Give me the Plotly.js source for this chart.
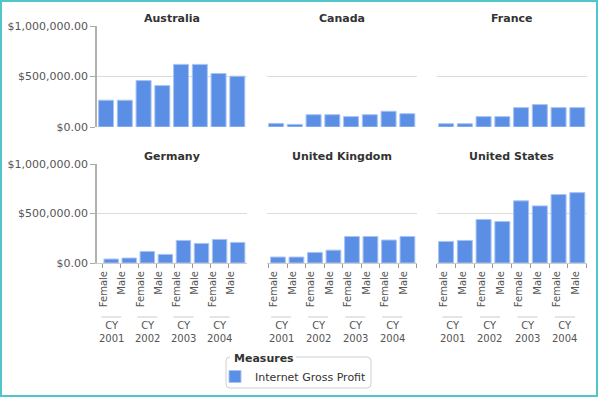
<!DOCTYPE html>
<html><head><meta charset="utf-8">
<script src="https://cdn.plot.ly/plotly-3.0.1.min.js"></script>
<style>
html,body{margin:0;padding:0;background:#fff}
#wrap{position:relative;width:598px;height:397px}
#chart{width:598px;height:397px}
#frame{position:absolute;left:0;top:0;width:598px;height:397px;box-sizing:border-box;border:2px solid #4fc6c9;pointer-events:none}
</style>
</head><body><div id="wrap"><div id="chart"></div><div id="frame"></div></div>
<script>
// ---- data ----
const years = ["CY 2001", "CY 2002", "CY 2003", "CY 2004"];
const genders = ["Female", "Male"];
const countries = ["Australia", "Canada", "France", "Germany", "United Kingdom", "United States"];
const australia = [265000, 265000, 460000, 410000, 620000, 620000, 530000, 503000];
const canada = [36000, 26000, 122000, 122000, 103000, 122000, 156000, 132000];
const france = [33000, 33000, 103000, 103000, 192000, 222000, 192000, 192000];
const germany = [40000, 50000, 117000, 87000, 228000, 198000, 238000, 208000];
const unitedKingdom = [60000, 60000, 107000, 130000, 268000, 268000, 232000, 268000];
const unitedStates = [218000, 228000, 440000, 419000, 628000, 577000, 691000, 711000];
const measureName = "Internet Gross Profit";
const legendTitle = "Measures";
const yTicks = [0, 500000, 1000000];

const seriesByCountry = [australia, canada, france, germany, unitedKingdom, unitedStates];

// ---- layout helpers ----
const W = 598, H = 397;
const px = v => v / W;
const py = v => 1 - v / H;
const FONT = "DejaVu Sans, Verdana, sans-serif";

const colDom = [[96.7, 246.7], [266.7, 416.7], [436.7, 586.7]];
const rowDom = [[26, 127], [164, 263]];
const titleY = [19, 156];
const labelShift = [-7, -4, -2];
const cyShift = [-9, -6, -3];

const keys = [];
const tickText = [];
years.forEach(y => genders.forEach(g => { keys.push(y + "|" + g); tickText.push(g); }));

const data = [];
const layout = {
  width: W, height: H,
  margin: {l: 0, r: 0, t: 0, b: 0},
  paper_bgcolor: "#fff", plot_bgcolor: "#fff",
  font: {family: FONT, size: 11, color: "#555"},
  bargap: 0.2,
  hovermode: false,
  showlegend: true,
  legend: {
    x: px(215), xanchor: "left", y: py(362), yanchor: "top",
    bgcolor: "rgba(0,0,0,0)", borderwidth: 0,
    font: {family: FONT, size: 11, color: "#333"},
    itemclick: false, itemdoubleclick: false
  },
  annotations: [{
    text: "<b>" + legendTitle + "</b>", xref: "paper", yref: "paper",
    x: px(232), y: py(358), xanchor: "left", yanchor: "middle", showarrow: false,
    font: {family: FONT, size: 11, color: "#333"}
  }],
  shapes: []
};

countries.forEach((c, i) => {
  const n = i + 1;
  const row = Math.floor(i / 3), col = i % 3;
  const xa = "x" + (n > 1 ? n : ""), ya = "y" + (n > 1 ? n : "");
  const xk = "xaxis" + (n > 1 ? n : ""), yk = "yaxis" + (n > 1 ? n : "");
  data.push({
    type: "bar", x: keys, y: seriesByCountry[i], xaxis: xa, yaxis: ya,
    name: measureName, legendgroup: "m", showlegend: i === 0,
    marker: {color: "#5b8fe6", line: {color: "#a9c4f3", width: 1}}
  });
  const bottom = row === 1;
  layout[xk] = {
    domain: [px(colDom[col][0]), px(colDom[col][1])],
    anchor: ya, type: "category", fixedrange: true,
    categoryorder: "array", categoryarray: keys,
    tickvals: keys, ticktext: tickText,
    showticklabels: bottom, ticks: bottom ? "outside" : "",
    tickson: "boundaries", ticklen: 4, tickcolor: "#999", tickwidth: 1,
    tickangle: -90, tickfont: {family: FONT, size: 10, color: "#555"},
    ticklabelshift: labelShift[col], ticklabelstandoff: 3,
    showline: bottom, linecolor: "#ccc", linewidth: 1,
    showgrid: false, zeroline: false
  };
  const first = col === 0;
  layout[yk] = {
    domain: [py(rowDom[row][1]), py(rowDom[row][0])],
    anchor: xa, range: [0, 1000000], fixedrange: true,
    tickvals: yTicks, tickformat: "$,.2f",
    showticklabels: first, ticks: first ? "outside" : "", ticklen: 5, tickcolor: "#aaa",
    tickfont: {family: FONT, size: 11, color: "#555"},
    showline: first, linecolor: "#b0b0b0", linewidth: 1.5,
    showgrid: true, gridcolor: "#dcdcdc", gridwidth: 1, zeroline: false
  };
  layout.annotations.push({
    text: "<b>" + c + "</b>", xref: "paper", yref: "paper",
    x: px((colDom[col][0] + colDom[col][1]) / 2), y: py(titleY[row]),
    xanchor: "center", yanchor: "middle", showarrow: false,
    font: {family: FONT, size: 11, color: "#333"}
  });
  if (bottom) {
    years.forEach((yr, j) => {
      layout.annotations.push({
        text: yr.replace(" ", "<br>"), xref: xa, yref: "paper",
        x: 2 * j + 0.5, y: py(332), xanchor: "center", yanchor: "middle",
        xshift: cyShift[col], showarrow: false,
        font: {family: FONT, size: 10, color: "#555"}
      });
      layout.shapes.push({
        type: "line", xref: xa, xsizemode: "pixel", xanchor: 2 * j + 0.5,
        x0: cyShift[col] - 10, x1: cyShift[col] + 10,
        yref: "paper", y0: py(317), y1: py(317),
        line: {color: "#dcdcdc", width: 1.5}
      });
    });
  }
});

// legend frame (fieldset style, gap for the title)
(function () {
  const L = 226, R = 371, T = 357, B = 388, r = 4, g0 = 230, g1 = 296;
  const P = (x, y) => px(x) + "," + py(y);
  const path = "M" + P(g0, T) + " L" + P(L + r, T) + " Q" + P(L, T) + " " + P(L, T + r) +
    " L" + P(L, B - r) + " Q" + P(L, B) + " " + P(L + r, B) +
    " L" + P(R - r, B) + " Q" + P(R, B) + " " + P(R, B - r) +
    " L" + P(R, T + r) + " Q" + P(R, T) + " " + P(R - r, T) + " L" + P(g1, T);
  layout.shapes.push({type: "path", xref: "paper", yref: "paper", path: path, line: {color: "#d0d0d0", width: 1}});
})();

Plotly.newPlot("chart", data, layout, {displayModeBar: false, staticPlot: true});
</script>
</body></html>
